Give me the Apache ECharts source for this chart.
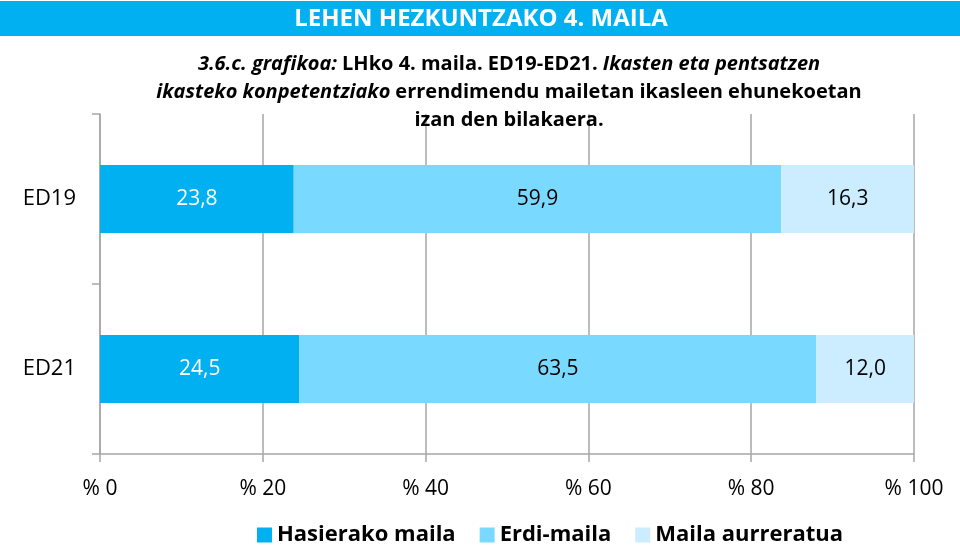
<!DOCTYPE html>
<html>
<head>
<meta charset="utf-8">
<script src="https://cdn.jsdelivr.net/npm/echarts@6/dist/echarts.min.js"></script>
<style>
  html, body { margin: 0; padding: 0; background: #fff; }
  #chart { width: 960px; height: 546px; }
</style>
</head>
<body>
<div id="chart"></div>
<script>
// datuak
const categories = ['ED19', 'ED21'];
const seriesNames = ['Hasierako maila', 'Erdi-maila', 'Maila aurreratua'];
const hasierakoa = [23.8, 24.5];
const erdikoa = [59.9, 63.5];
const aurreratua = [16.3, 12.0];
const xTicks = [0, 20, 40, 60, 80, 100];

const colors = ['#00B0F0', '#7AD9FF', '#CCECFF'];
const labelColors = ['#ffffff', '#000000', '#000000'];
const font = '"Open Sans", "Noto Sans", sans-serif';

const chart = echarts.init(document.getElementById('chart'));

const makeSeries = (name, data, i) => ({
  name: name,
  type: 'bar',
  stack: 'total',
  data: data,
  barWidth: 68,
  itemStyle: { color: colors[i] },
  label: {
    show: true,
    position: 'inside',
    color: labelColors[i],
    fontFamily: font,
    fontSize: 21,
    formatter: (p) => p.value.toFixed(1).replace('.', ',')
  }
});

const option = {
  animation: false,
  color: colors,
  graphic: [
    {
      type: 'rect',
      shape: { x: 0, y: 1, width: 960, height: 35 },
      style: { fill: '#00B0F0' }
    },
    {
      type: 'text',
      x: 481, y: 19,
      style: {
        text: 'LEHEN HEZKUNTZAKO 4. MAILA',
        fill: '#fff',
        font: 'bold 24px ' + font,
        textAlign: 'center',
        textVerticalAlign: 'middle'
      }
    }
  ],
  title: {
    left: 504,
    top: 45,
    textAlign: 'center',
    text: '{i|3.6.c. grafikoa:} {b|LHko 4. maila. ED19-ED21.} {i|Ikasten eta pentsatzen}\n' +
          '{i|ikasteko konpetentziako} {b|errendimendu mailetan ikasleen ehunekoetan}\n' +
          '{b|izan den bilakaera.}',
    textStyle: {
      rich: {
        i: { fontFamily: font, fontSize: 20, fontWeight: 'bold', fontStyle: 'italic', color: '#000', lineHeight: 28 },
        b: { fontFamily: font, fontSize: 20, fontWeight: 'bold', color: '#000', lineHeight: 28 }
      }
    }
  },
  legend: {
    data: seriesNames,
    left: 252,
    top: 519,
    itemWidth: 15,
    itemHeight: 15,
    itemGap: 24,
    icon: 'rect',
    textStyle: { fontFamily: font, fontSize: 22, fontWeight: 'bold', color: '#000' }
  },
  grid: { left: 100, right: 46, top: 114, bottom: 92 },
  xAxis: {
    type: 'value',
    min: 0,
    max: 100,
    interval: 20,
    axisLine: { show: true, lineStyle: { color: '#A6A6A6', width: 1.5 } },
    axisTick: { show: true, length: 8, lineStyle: { color: '#A6A6A6', width: 1.5 } },
    splitLine: { show: true, lineStyle: { color: '#A6A6A6', width: 1.5 } },
    axisLabel: {
      margin: 25,
      fontFamily: font,
      fontSize: 21,
      color: '#000',
      formatter: (v) => xTicks.includes(v) ? '% ' + v : ''
    }
  },
  yAxis: {
    type: 'category',
    data: categories,
    inverse: true,
    axisLine: { show: true, lineStyle: { color: '#A6A6A6', width: 1.5 } },
    axisTick: { show: true, inside: false, length: 8, lineStyle: { color: '#A6A6A6', width: 1.5 } },
    axisLabel: { margin: 24, fontFamily: font, fontSize: 22, color: '#000' }
  },
  series: [
    makeSeries(seriesNames[0], hasierakoa, 0),
    makeSeries(seriesNames[1], erdikoa, 1),
    makeSeries(seriesNames[2], aurreratua, 2)
  ]
};

chart.setOption(option);
</script>
</body>
</html>
